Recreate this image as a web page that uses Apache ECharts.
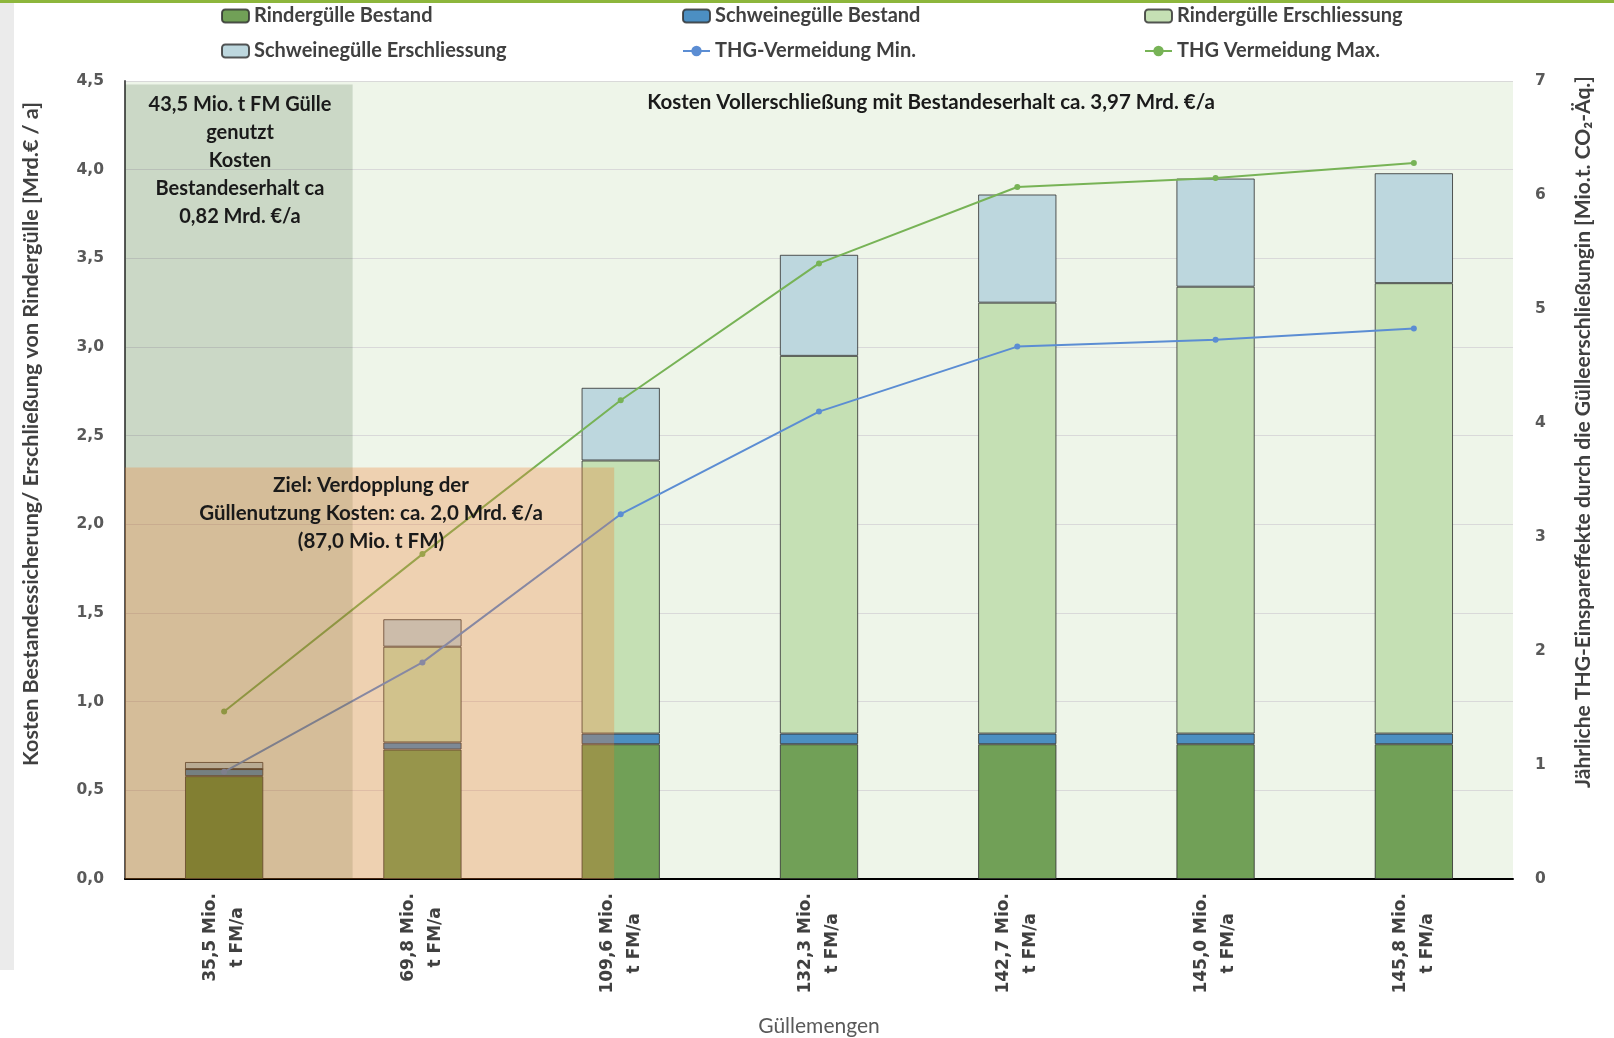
<!DOCTYPE html>
<html>
<head>
<meta charset="utf-8">
<script src="https://cdn.jsdelivr.net/npm/echarts@6/dist/echarts.min.js"></script>
<style>
  html, body { margin: 0; padding: 0; background: #fff; }
  #main { width: 1614px; height: 1038px; }
</style>
</head>
<body>
<div id="main"></div>
<script>
// Güllemengen (x axis)
var categories = ['35,5 Mio.\nt FM/a', '69,8 Mio.\nt FM/a', '109,6 Mio.\nt FM/a', '132,3 Mio.\nt FM/a',
                  '142,7 Mio.\nt FM/a', '145,0 Mio.\nt FM/a', '145,8 Mio.\nt FM/a'];

// Kosten [Mrd. €/a], gestapelt
var rinderBestand   = [0.58, 0.73, 0.76, 0.76, 0.76, 0.76, 0.76];
var schweineBestand = [0.04, 0.04, 0.06, 0.06, 0.06, 0.06, 0.06];
var rinderErschl    = [0.00, 0.54, 1.54, 2.13, 2.43, 2.52, 2.54];
var schweineErschl  = [0.04, 0.155, 0.41, 0.57, 0.61, 0.61, 0.62];

// THG-Vermeidung [Mio. t CO2-Äq.]
var thgMin = [0.94, 1.90, 3.20, 4.10, 4.67, 4.73, 4.83];
var thgMax = [1.47, 2.85, 4.20, 5.40, 6.07, 6.15, 6.28];

// hinterlegte Bereiche: [x von, x bis (Kategorie-Einheiten), y oben (Mrd. €)]
var bestandBox = [0, 1.148, 4.48];
var zielBox    = [0, 2.467, 2.32];

var chart = echarts.init(document.getElementById('main'));

var fontTxt = 'Lato, "Noto Sans", sans-serif';
var fontNum = '"DejaVu Sans", sans-serif';
var border = 'rgba(45,45,45,0.8)';

function comma(v) { return v.toFixed(1).replace('.', ','); }

function barSeries(name, data, color, firstColor) {
    return {
        name: name, type: 'bar', stack: 'kosten', barWidth: '39.5%',
        data: data.map(function (v, i) {
            return (i === 0 && firstColor) ? { value: v, itemStyle: { color: firstColor } } : v;
        }),
        itemStyle: { color: color, borderColor: border, borderWidth: 1 }
    };
}

function lineSeries(name, data, color) {
    return {
        name: name, type: 'line', yAxisIndex: 1, data: data, z: 3,
        symbol: 'circle', symbolSize: 6,
        itemStyle: { color: color }, lineStyle: { color: color, width: 2 }
    };
}

var legendText = { fontFamily: fontTxt, fontSize: 20, fontWeight: 'bold', color: '#404040' };
function legendCol(left, names) {
    return {
        orient: 'vertical', left: left, top: 6, padding: 0, itemGap: 15,
        itemWidth: 27, itemHeight: 13, textStyle: legendText, data: names
    };
}

var overlayColors = ['rgba(10,55,0,0.15)', 'rgba(237,125,49,0.3)'];

var option = {
    backgroundColor: '#fff',
    animation: false,
    grid: {
        left: 125, right: 101, top: 81, bottom: 159, containLabel: false, outerBoundsMode: 'none',
        show: true, backgroundColor: '#EEF5E9', borderWidth: 0
    },
    legend: [
        legendCol(221, ['Rindergülle Bestand', 'Schweinegülle Erschliessung']),
        legendCol(682, ['Schweinegülle Bestand', 'THG-Vermeidung Min.']),
        legendCol(1144, ['Rindergülle Erschliessung', 'THG Vermeidung Max.'])
    ],
    xAxis: [{
        type: 'category', data: categories,
        axisTick: { show: false },
        axisLine: { lineStyle: { color: '#000', width: 2 } },
        axisLabel: {
            rotate: 90, margin: 14,
            formatter: function (v) {
                return v.split('\n').map(function (s) { return '{a|' + s + '}'; }).join('\n');
            },
            rich: { a: { align: 'center', fontFamily: fontNum, fontWeight: 'bold', fontSize: 17, color: '#404040', lineHeight: 27 } }
        },
        name: 'Güllemengen', nameLocation: 'middle', nameGap: 137,
        nameTextStyle: { fontFamily: fontTxt, fontSize: 21, color: '#595959' }
    }, {
        type: 'value', min: 0, max: 7, show: false
    }],
    yAxis: [{
        type: 'value', min: 0, max: 4.5, interval: 0.5,
        axisLine: { show: true, lineStyle: { color: '#595959', width: 2 } },
        axisTick: { show: false },
        splitLine: { lineStyle: { color: '#D9D9D9', width: 1 } },
        axisLabel: { margin: 21, formatter: comma, fontFamily: fontNum, fontWeight: 'bold', fontSize: 15.5, color: '#595959' }
    }, {
        type: 'value', min: 0, max: 7, interval: 1, position: 'right',
        axisLine: { show: false }, axisTick: { show: false }, splitLine: { show: false },
        axisLabel: { margin: 22, fontFamily: fontNum, fontWeight: 'bold', fontSize: 15.5, color: '#595959' }
    }],
    series: [
        barSeries('Rindergülle Bestand', rinderBestand, '#71A057', '#618D3D'),
        barSeries('Schweinegülle Bestand', schweineBestand, '#4C8FC2'),
        barSeries('Rindergülle Erschliessung', rinderErschl, '#C5E0B4'),
        barSeries('Schweinegülle Erschliessung', schweineErschl, '#BDD7DE'),
        lineSeries('THG-Vermeidung Min.', thgMin, '#5B8DD3'),
        lineSeries('THG Vermeidung Max.', thgMax, '#77B356'),
        {
            type: 'custom', xAxisIndex: 1, yAxisIndex: 0, z: 5, silent: true,
            data: [bestandBox, zielBox],
            renderItem: function (params, api) {
                var p0 = api.coord([api.value(0), api.value(2)]);
                var p1 = api.coord([api.value(1), 0]);
                return {
                    type: 'rect',
                    shape: { x: p0[0], y: p0[1], width: p1[0] - p0[0], height: p1[1] - p0[1] },
                    style: { fill: overlayColors[params.dataIndex] }
                };
            }
        }
    ],
    graphic: [
        { type: 'rect', z: 0, shape: { x: 0, y: 0, width: 1614, height: 3 }, style: { fill: '#8DB63C' } },
        { type: 'rect', z: 0, shape: { x: 0, y: 3, width: 14, height: 967 }, style: { fill: '#EBEBEB' } },
        {
            type: 'text', z: 100, x: 240, y: 161, silent: true,
            style: { text: '43,5 Mio. t FM Gülle\ngenutzt\nKosten\nBestandeserhalt ca\n0,82 Mrd. €/a',
                     font: 'bold 20px ' + fontTxt, fill: '#1a1a1a', align: 'center', verticalAlign: 'middle', lineHeight: 28 }
        },
        {
            type: 'text', z: 100, x: 931, y: 102, silent: true,
            style: { text: 'Kosten Vollerschließung mit Bestandeserhalt ca. 3,97 Mrd. €/a',
                     font: 'bold 20.5px ' + fontTxt, fill: '#1a1a1a', align: 'center', verticalAlign: 'middle' }
        },
        {
            type: 'text', z: 100, x: 371, y: 513, silent: true,
            style: { text: 'Ziel: Verdopplung der\nGüllenutzung Kosten: ca. 2,0 Mrd. €/a\n(87,0 Mio. t FM)',
                     font: 'bold 20.5px ' + fontTxt, fill: '#1a1a1a', align: 'center', verticalAlign: 'middle', lineHeight: 28 }
        },
        {
            type: 'text', z: 100, x: 31, y: 434, rotation: Math.PI / 2, silent: true,
            style: { text: 'Kosten Bestandessicherung/ Erschließung von Rindergülle [Mrd.€ / a]',
                     font: 'bold 21.5px ' + fontTxt, fill: '#404040', align: 'center', verticalAlign: 'middle' }
        },
        {
            type: 'text', z: 100, x: 1583, y: 432, rotation: Math.PI / 2, silent: true,
            style: { text: 'Jährliche THG-Einspareffekte durch die Gülleerschließungin [Mio.t. CO₂-Äq.]',
                     font: 'bold 21px ' + fontTxt, fill: '#404040', align: 'center', verticalAlign: 'middle' }
        }
    ]
};

chart.setOption(option);
</script>
</body>
</html>
